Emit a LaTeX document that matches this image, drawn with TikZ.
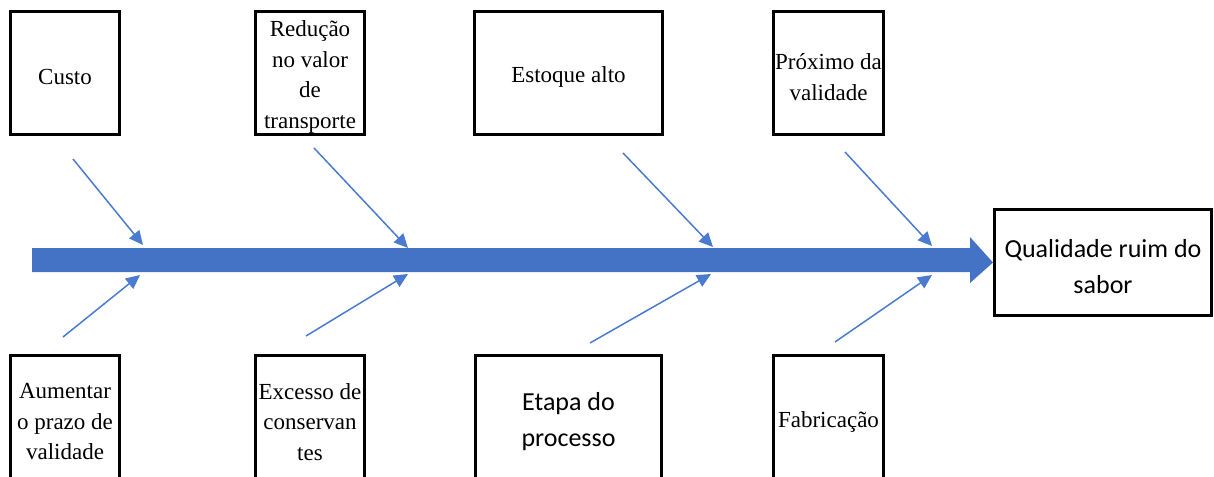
\documentclass[tikz,border=0pt]{standalone}
\usepackage{fontspec}
\setmainfont{Liberation Serif}
\newfontfamily\calib{Carlito}
\usetikzlibrary{arrows.meta}
\definecolor{spineblue}{HTML}{4472C4}
\definecolor{boneblue}{HTML}{4A7BD0}
\tikzset{
  causebox/.style={draw=black, line width=3pt, fill=white, inner sep=0pt},
  serif text/.style={align=center, inner sep=0pt, yshift=-4pt, font=\fontsize{23}{30.5}\selectfont},
  sans text/.style={align=center, inner sep=0pt, yshift=-4pt, font=\calib\fontsize{26}{36}\selectfont},
  bone/.style={draw=boneblue, line width=1.5pt, -{Triangle[length=14pt,width=13pt]}},
}
\begin{document}
\begin{tikzpicture}[x=1pt,y=-1pt]
\useasboundingbox (0,0) rectangle (1214,476);
\clip (0,0) rectangle (1214,476);
% top causes
\node[causebox, minimum width=109pt, minimum height=123pt,
  label={[serif text]center:{Custo}}] (custo) at (65,73) {};
\node[causebox, minimum width=109pt, minimum height=123pt,
  label={[serif text]center:{Redução\\no valor\\de\\transporte}}] (reducao) at (310,73) {};
\node[causebox, minimum width=188pt, minimum height=123pt,
  label={[serif text]center:{Estoque alto}}] (estoque) at (568.5,73) {};
\node[causebox, minimum width=110pt, minimum height=123pt,
  label={[serif text]center:{Próximo da\\validade}}] (proximo) at (828.5,73) {};
% bottom causes
\node[causebox, minimum width=109pt, minimum height=125pt,
  label={[serif text]center:{Aumentar\\o prazo de\\validade}}] (aumentar) at (65,418) {};
\node[causebox, minimum width=109pt, minimum height=125pt,
  label={[serif text]center:{Excesso de\\conservan\\tes}}] (excesso) at (310,418) {};
\node[causebox, minimum width=186pt, minimum height=125pt,
  label={[sans text]center:{Etapa do\\processo}}] (etapa) at (568.5,418) {};
\node[causebox, minimum width=110pt, minimum height=125pt,
  label={[serif text]center:{Fabricação}}] (fabricacao) at (828.5,418) {};
% effect
\node[causebox, minimum width=217pt, minimum height=106pt,
  label={[sans text]center:{Qualidade ruim do\\sabor}}] (efeito) at (1103,262.5) {};
% spine
\fill[spineblue] (32,248) -- (970,248) -- (970,237) -- (efeito.west) -- (970,283) -- (970,272) -- (32,272) -- cycle;
% bones: start and end coordinates
\coordinate (t1s) at (73,159);  \coordinate (t1e) at (143,245);
\coordinate (t2s) at (314,148); \coordinate (t2e) at (408,248);
\coordinate (t3s) at (623,153); \coordinate (t3e) at (713,247);
\coordinate (t4s) at (845,152); \coordinate (t4e) at (932,246);
\coordinate (b1s) at (63,337);  \coordinate (b1e) at (140,275);
\coordinate (b2s) at (306,336); \coordinate (b2e) at (408,274);
\coordinate (b3s) at (590,343); \coordinate (b3e) at (711,274);
\coordinate (b4s) at (835,342); \coordinate (b4e) at (932,275);
\draw[bone] (t1s) -- (t1e);
\draw[bone] (t2s) -- (t2e);
\draw[bone] (t3s) -- (t3e);
\draw[bone] (t4s) -- (t4e);
\draw[bone] (b1s) -- (b1e);
\draw[bone] (b2s) -- (b2e);
\draw[bone] (b3s) -- (b3e);
\draw[bone] (b4s) -- (b4e);
\end{tikzpicture}
\end{document}
